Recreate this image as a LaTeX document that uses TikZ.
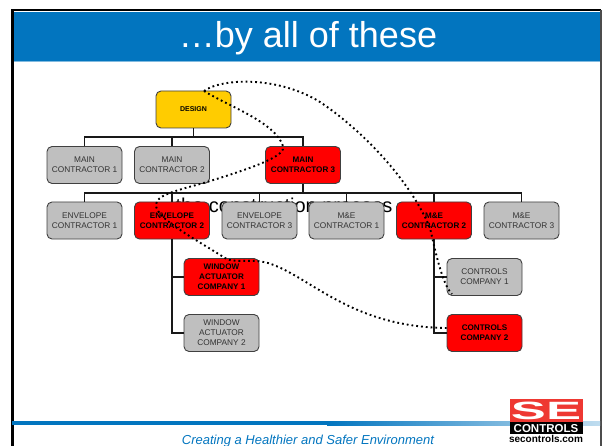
\documentclass[tikz,border=0pt]{standalone}
\usepackage{fontspec}
\usetikzlibrary{positioning}
\setmainfont{Liberation Sans}
\tikzset{
  orgbox/.style={draw=black!75,rounded corners=5pt,line width=0.9pt,minimum width=75pt,minimum height=37pt,
    inner sep=0pt,align=center,text=black!80,font=\fontsize{8.3}{10}\selectfont},
  greybox/.style={orgbox,fill=black!25},
  redbox/.style={orgbox,fill=red,text=black,font=\fontsize{8.1}{10}\selectfont\bfseries},
  tree/.style={line width=1.4pt,black!90},
  dotlink/.style={line width=1.9pt,black,dash pattern=on 1.8pt off 3pt},
}
\definecolor{seblue}{RGB}{2,117,191}
\definecolor{sered}{RGB}{238,56,50}
\definecolor{seyellow}{RGB}{255,204,0}
\begin{document}
\begin{tikzpicture}[x=1pt,y=-1pt]
\useasboundingbox (0,0) rectangle (604,446);
% frame and title
\fill[seblue] (14,12) rectangle (600,61);
\draw[seblue!50!white,line width=0.7pt] (14,61.5) -- (600,61.5);
\draw[black,line width=2.6pt] (12.5,446) -- (12.5,10) -- (601,10);
\draw[black!70,line width=1.6pt] (601,10) -- (601,446);
\node[text=white,font=\fontsize{36}{40}\selectfont] (title) at (308,38) {\dots by all of these};
% text under the boxes
\node[anchor=base,text=black,font=\fontsize{20}{24}\selectfont] (process) at (284,212) {the construction process};
% boxes
\node[orgbox,fill=seyellow,text=black,font=\fontsize{7}{8}\selectfont\bfseries] (design) at (193.5,109.5) {DESIGN};
\node[greybox] (main1) at (84.5,165) {MAIN\\CONTRACTOR 1};
\node[greybox] (main2) at (172,165) {MAIN\\CONTRACTOR 2};
\node[redbox] (main3) at (303,165) {MAIN\\CONTRACTOR 3};
\node[greybox] (env1) at (84.5,220.5) {ENVELOPE\\CONTRACTOR 1};
\node[redbox] (env2) at (172,220.5) {ENVELOPE\\CONTRACTOR 2};
\node[greybox] (env3) at (259.5,220.5) {ENVELOPE\\CONTRACTOR 3};
\node[greybox] (me1) at (346.5,220.5) {M\&E\\CONTRACTOR 1};
\node[redbox] (me2) at (434,220.5) {M\&E\\CONTRACTOR 2};
\node[greybox] (me3) at (521.5,220.5) {M\&E\\CONTRACTOR 3};
\node[redbox] (win1) at (221.5,277) {WINDOW\\ACTUATOR\\COMPANY 1};
\node[greybox] (win2) at (221.5,333) {WINDOW\\ACTUATOR\\COMPANY 2};
\node[greybox] (ctl1) at (484.5,277) {CONTROLS\\COMPANY 1};
\node[redbox] (ctl2) at (484.5,333) {CONTROLS\\COMPANY 2};
% tree lines
\draw[tree] (design.south) -- (193.5,137);
\draw[tree] (main1.north) |- (main3.north |- 0,137) -- (main3.north);
\draw[tree] (main2.north) -- (main2.north |- 0,137);
\draw[tree] (main3.south) -- (303,193);
\draw[tree] (env1.north) |- (me3.north |- 0,193) -- (me3.north);
\foreach \n in {env2,env3,me1,me2}
  \draw[tree] (\n.north) -- (\n.north |- 0,193);
\draw[tree] (env2.south) |- (win2.west);
\draw[tree] (env2.south |- win1.west) -- (win1.west);
\draw[tree] (me2.south) |- (ctl2.west);
\draw[tree] (me2.south |- ctl1.west) -- (ctl1.west);
% dotted routes
\coordinate (start) at (204,91);
\coordinate (endone) at (452,294);
\draw[dotlink] (start) .. controls (222,78) and (278,76) .. (320,102)
  .. controls (362,130) and (410,180) .. (430,228)
  .. controls (434,245) and (442,285) .. (endone);
\draw[dotlink] (start) .. controls (228,106) and (275,122) .. (283,146)
  .. controls (286,155) and (262,165) .. (207,182)
  .. controls (175,191) and (156,195) .. (156,205)
  .. controls (156,218) and (190,236) .. (225,258)
  .. controls (235,264) and (250,258) .. (268,263)
  .. controls (310,276) and (350,327) .. (ctl2.west |- 0,328);
% footer
\fill[seblue] (12,421) rectangle (327,425);
\shade[left color=seblue,right color=seblue!25!white] (327,421) rectangle (600,425);
\node[text=seblue,font=\fontsize{13}{15}\selectfont\itshape] (footer) at (308,441) {Creating a Healthier and Safer Environment};
% logo
\node[fill=sered,minimum width=73pt,minimum height=23pt,inner sep=0pt] (logored) at (546,410.5) {};
\node[fill=black,minimum width=73pt,minimum height=12pt,inner sep=0pt,below=0pt of logored] (logoblack) {};
\node[text=white,font=\fontsize{25}{25}\selectfont\bfseries,xscale=2.1] (logose) at (546,410.5) {SE};
\node[text=white,font=\fontsize{11.5}{12}\selectfont\bfseries] (logoctl) at (logoblack) {CONTROLS};
\node[text=black,font=\fontsize{10}{11}\selectfont\bfseries] (logoweb) at (546,439) {secontrols.com};
\end{tikzpicture}
\end{document}
